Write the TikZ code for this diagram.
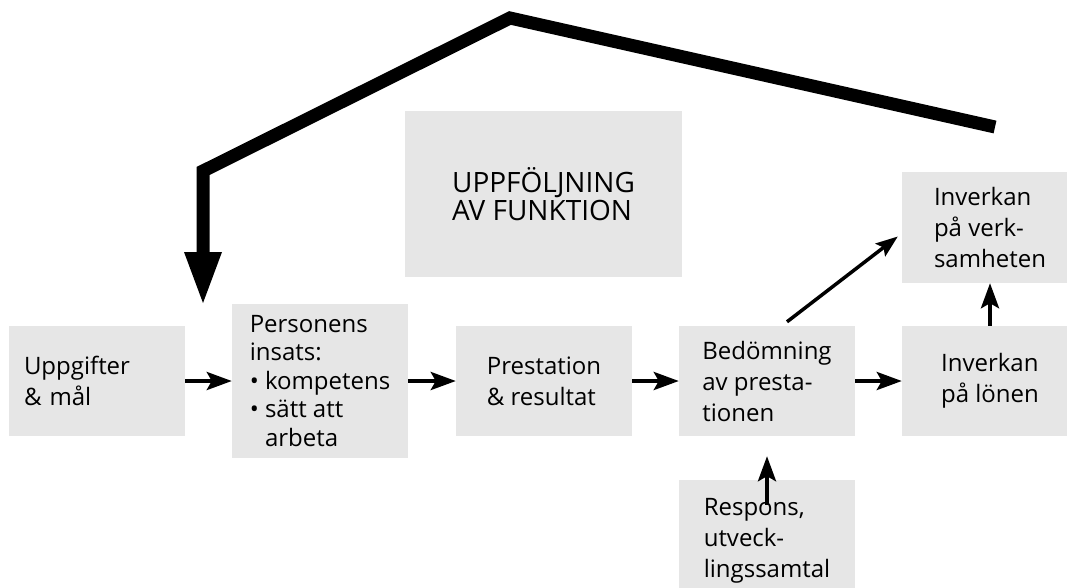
\documentclass[tikz,border=0pt]{standalone}
\usepackage{fontspec}
\setmainfont{Open Sans}
\usetikzlibrary{arrows.meta}
\definecolor{boxgray}{RGB}{230,230,230}
\begin{document}
\begin{tikzpicture}[x=1pt,y=-1pt,
  box/.style={fill=boxgray, draw=none, inner sep=0pt, minimum width=176pt,
    minimum height=110pt, align=left, font=\fontsize{24}{31}\selectfont},
  arr/.style={line width=4pt, -{Stealth[length=25pt,width=18pt,inset=5pt]}},
  thinarr/.style={line width=3.5pt, -{Stealth[length=22pt,width=16pt,inset=4pt]}}]
\useasboundingbox (0,0) rectangle (1067,587);
\clip (0,0) rectangle (1067,587);

% boxes
\node[box, text width=146pt, inner xsep=15pt] (u) at (97,381) {Uppgifter\\\& mål};
\node[box, minimum height=154pt, font=\fontsize{24}{28.5}\selectfont] (p) at (320,381)
  {Personens\\insats:\\• kompetens\\• sätt att\\\hphantom{• }arbeta};
\node[box] (r) at (544,381) {Prestation\\\& resultat};
\node[box] (b) at (767,381) {Bedömning\\av presta-\\tionen};
\node[box] (l) at (990,381) {Inverkan\\på lönen};
\node[box, minimum height=111pt] (v) at (990,227.5) {Inverkan\\på verk-\\samheten};
\node[box, minimum height=122pt] (s) at (767,541) {Respons,\\utveck-\\lingssamtal};
\node[box, minimum width=277pt, minimum height=166pt, font=\fontsize{28}{28}\selectfont]
  (f) at (543.5,194) {UPPFÖLJNING\\AV FUNKTION};

% connectors
\draw[arr] (u) -- (p);
\draw[arr] (p) -- (r);
\draw[arr] (r) -- (b);
\draw[arr] (b) -- (l);
\draw[arr] (l) -- (v);
\draw[thinarr] ([xshift=20pt,yshift=4pt]b.north) -- ([xshift=-4pt,yshift=-9pt]v.west);
\draw[arr] ([yshift=-25pt]s.north) -- ([yshift=-20pt]b.south);

% big feedback arrow
\coordinate (e1) at (995,127);
\coordinate (ap) at (510,18);
\coordinate (bd) at (203,171);
\coordinate (hb) at (203,253);
\coordinate (tip) at (203,303);
\draw[line width=13pt, line join=miter] (e1) -- (ap) -- (bd) -- (hb);
\fill (184,252) -- (222,252) -- (tip) -- cycle;
\end{tikzpicture}
\end{document}
